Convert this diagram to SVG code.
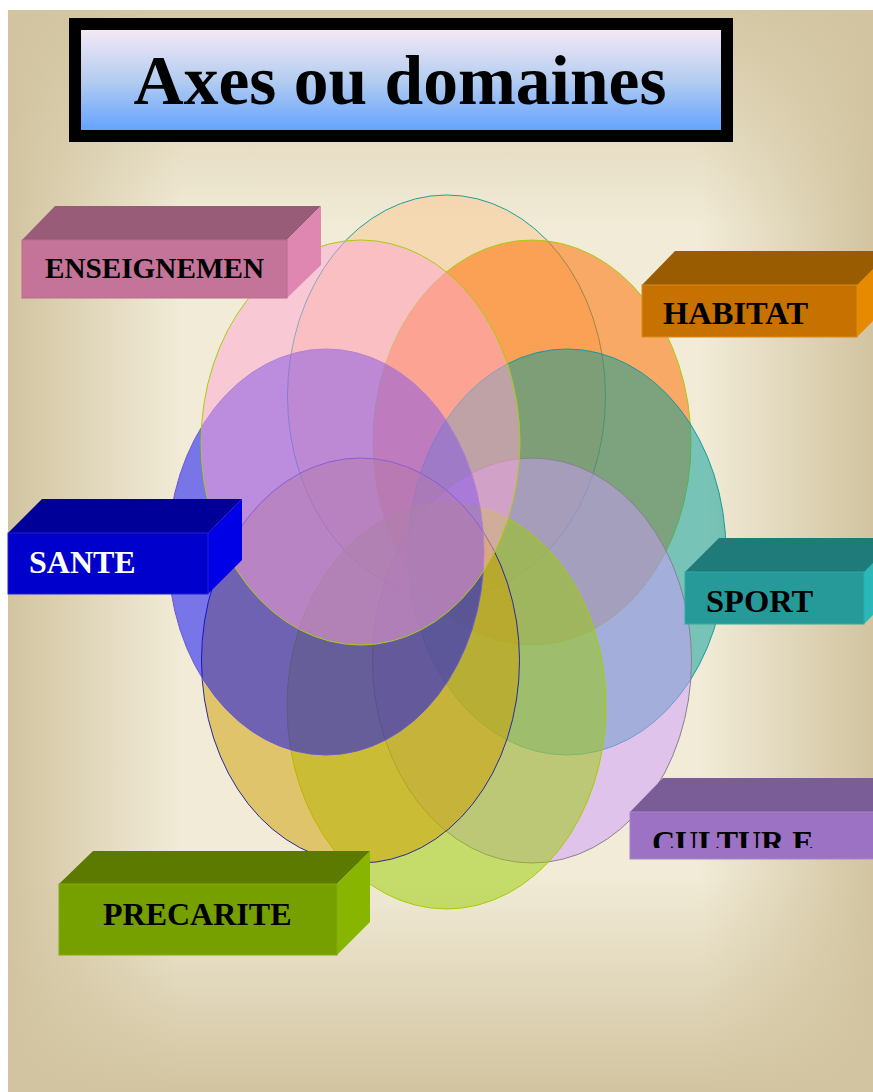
<svg xmlns="http://www.w3.org/2000/svg" width="873" height="1092" viewBox="0 0 873 1092">
  <defs>
    <linearGradient id="bgH" x1="0" y1="0" x2="1" y2="0">
      <stop offset="0" stop-color="#d2c4a0" stop-opacity="1"/>
      <stop offset="0.2" stop-color="#d2c4a0" stop-opacity="0"/>
      <stop offset="0.8" stop-color="#d2c4a0" stop-opacity="0"/>
      <stop offset="1" stop-color="#d2c4a0" stop-opacity="1"/>
    </linearGradient>
    <linearGradient id="bgV" x1="0" y1="0" x2="0" y2="1">
      <stop offset="0" stop-color="#d2c4a0" stop-opacity="0.9"/>
      <stop offset="0.2" stop-color="#d2c4a0" stop-opacity="0"/>
      <stop offset="0.8" stop-color="#d2c4a0" stop-opacity="0"/>
      <stop offset="1" stop-color="#d2c4a0" stop-opacity="1"/>
    </linearGradient>
    <linearGradient id="titleGrad" x1="0" y1="0" x2="0" y2="1">
      <stop offset="0" stop-color="#f4e8f6"/>
      <stop offset="0.5" stop-color="#b4cdf0"/>
      <stop offset="1" stop-color="#65a3ff"/>
    </linearGradient>
    <clipPath id="cultClip">
      <rect x="630" y="812" width="243" height="36"/>
    </clipPath>
    <style>
      .lbl { font-family: "Liberation Serif", "Times New Roman", serif; font-weight: bold; font-size: 32.5px; fill: #000; }
      .ell { stroke-width: 1; }
    </style>
  </defs>

  <rect x="0" y="0" width="873" height="1092" fill="#ffffff"/>
  <g id="background">
    <rect x="8" y="10" width="865" height="1082" fill="#f1ebd7"/>
    <rect x="8" y="10" width="865" height="1082" fill="url(#bgH)"/>
    <rect x="8" y="10" width="865" height="1082" fill="url(#bgV)"/>
  </g>

  <g id="title">
    <rect x="69" y="18" width="664" height="124" fill="#000"/>
    <rect x="81" y="30" width="640" height="100" fill="url(#titleGrad)"/>
    <text x="400" y="104" text-anchor="middle" font-family="Liberation Serif, 'Times New Roman', serif" font-weight="bold" font-size="69.5">Axes ou domaines</text>
  </g>

  <g id="ellipses">
    <ellipse id="e-peach" class="ell" cx="446.5" cy="396" rx="159" ry="201" fill="rgb(250,200,144)" fill-opacity="0.5" stroke="#1fa0a0"/>
    <ellipse id="e-orange" class="ell" cx="532" cy="442.5" rx="159" ry="202.5" fill="rgb(254,115,7)" fill-opacity="0.55" stroke="#a8cc10"/>
    <ellipse id="e-teal" class="ell" cx="567" cy="552" rx="159" ry="203" fill="rgb(0,156,152)" fill-opacity="0.5" stroke="#189a9a"/>
    <ellipse id="e-lavender" class="ell" cx="532" cy="660.5" rx="159.5" ry="202.5" fill="rgb(206,156,254)" fill-opacity="0.5" stroke="#8a8090"/>
    <ellipse id="e-green" class="ell" cx="446.5" cy="706" rx="159.5" ry="203" fill="rgb(154,206,0)" fill-opacity="0.5" stroke="#a8cc00"/>
    <ellipse id="e-gold" class="ell" cx="360.5" cy="660.5" rx="159" ry="202.5" fill="rgb(208,158,0)" fill-opacity="0.5" stroke="#2a2a9a"/>
    <ellipse id="e-blue" class="ell" cx="326" cy="552" rx="158" ry="203" fill="rgb(0,0,252)" fill-opacity="0.5" stroke="#6a5ad0"/>
    <ellipse id="e-pink" class="ell" cx="360.5" cy="442.5" rx="159.5" ry="202.5" fill="rgb(255,166,212)" fill-opacity="0.5" stroke="#a8cc10"/>
  </g>

  <g id="node-enseignement">
    <polygon points="22,240 55,206 321,206 287,240" fill="#985b78"/>
    <polygon points="287,240 321,206 321,265 287,298" fill="#e087b1"/>
    <rect x="22" y="240" width="265" height="58" fill="#c47499" stroke="#b86a8e" stroke-width="1"/>
    <text class="lbl" x="45" y="278" style="font-size:29px" textLength="219" lengthAdjust="spacingAndGlyphs">ENSEIGNEMEN</text>
  </g>

  <g id="node-habitat">
    <polygon points="642,285 675,251 873,251 873,285" fill="#9a5c00"/>
    <polygon points="857,285 873,269 873,321 857,337" fill="#e88a00"/>
    <rect x="642" y="285" width="215" height="52" fill="#c77200" stroke="#d88a20" stroke-width="1"/>
    <text class="lbl" x="663" y="324">HABITAT</text>
  </g>

  <g id="node-sante">
    <polygon points="8,533 42,499 242,499 208,533" fill="#000099"/>
    <polygon points="208,533 242,499 242,560 208,594" fill="#0000e6"/>
    <rect x="8" y="533" width="200" height="61" fill="#0000cc" stroke="#2020d0" stroke-width="1"/>
    <text class="lbl" x="29" y="573" style="fill:#ffffff;font-size:32px">SANTE</text>
  </g>

  <g id="node-sport">
    <polygon points="685,572 719,538 873,538 873,572" fill="#1f7a7a"/>
    <polygon points="864,572 873,563 873,615 864,624" fill="#2bb8b8"/>
    <rect x="685" y="572" width="179" height="52" fill="#269999" stroke="#30a8a8" stroke-width="1"/>
    <text class="lbl" x="706" y="612">SPORT</text>
  </g>

  <g id="node-culture">
    <polygon points="630,812 663,778 873,778 873,812" fill="#7a5c96"/>
    <rect x="630" y="812" width="250" height="47" fill="#9c73c4" stroke="#a884cc" stroke-width="1"/>
    <text class="lbl" x="652" y="853" clip-path="url(#cultClip)" style="font-size:32px">CULTUR E</text>
  </g>

  <g id="node-precarite">
    <polygon points="59,884 93,851 370,851 337,884" fill="#5c7a00"/>
    <polygon points="337,884 370,851 370,922 337,955" fill="#88b500"/>
    <rect x="59" y="884" width="278" height="71" fill="#76a000" stroke="#82aa10" stroke-width="1"/>
    <text class="lbl" x="103" y="925" style="font-size:32px">PRECARITE</text>
  </g>

  <g id="connectors"></g>
</svg>
